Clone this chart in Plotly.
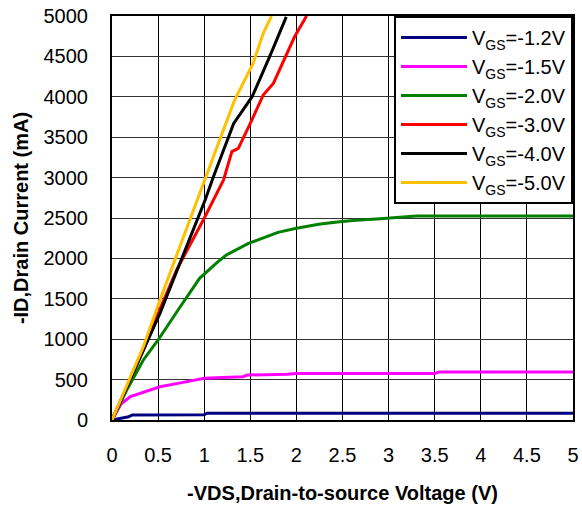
import plotly.graph_objects as go

# -VDS (V) and -ID (mA)
v_12 = [0, 0.1, 0.18, 0.22, 1.0, 1.03, 5.0]
i_12 = [0, 25, 40, 62, 65, 83, 85]

v_15 = [0, 0.05, 0.1, 0.2, 0.32, 0.52, 0.7, 0.92, 1.0, 1.42, 1.47, 1.9, 2.0, 3.5, 3.55, 5.0]
i_15 = [0, 110, 200, 290, 338, 412, 450, 495, 516, 536, 557, 565, 575, 575, 595, 595]

v_20 = [0, 0.16, 0.34, 0.5, 0.74, 0.95, 1.15, 1.24, 1.48, 1.8, 2.0, 2.26, 2.47, 2.61, 2.91, 3.3, 5.0]
i_20 = [0, 371, 743, 990, 1402, 1753, 1960, 2042, 2186, 2322, 2372, 2426, 2454, 2470, 2490, 2525, 2525]

v_30 = [0, 0.34, 0.485, 0.7, 0.99, 1.1, 1.21, 1.3, 1.37, 1.5, 1.64, 1.75, 1.86, 1.98, 2.11]
i_30 = [0, 866, 1279, 1856, 2475, 2723, 2970, 3321, 3362, 3671, 4022, 4166, 4434, 4743, 5000]

v_40 = [0, 0.39, 0.52, 1.01, 1.1, 1.32, 1.52, 1.71, 1.89]
i_40 = [0, 990, 1320, 2723, 3011, 3671, 4001, 4496, 4990]

v_50 = [0, 0.34, 0.52, 0.92, 1.14, 1.33, 1.53, 1.64, 1.73]
i_50 = [0, 907, 1485, 2723, 3382, 3960, 4414, 4785, 5000]

labels = ["V<sub>GS</sub>=-1.2V", "V<sub>GS</sub>=-1.5V", "V<sub>GS</sub>=-2.0V",
          "V<sub>GS</sub>=-3.0V", "V<sub>GS</sub>=-4.0V", "V<sub>GS</sub>=-5.0V"]
colors = ["#000080", "#FF00FF", "#008000", "#FF0000", "#000000", "#FFC000"]
xs = [v_12, v_15, v_20, v_30, v_40, v_50]
ys = [i_12, i_15, i_20, i_30, i_40, i_50]

x_ticks = [0, 0.5, 1, 1.5, 2, 2.5, 3, 3.5, 4, 4.5, 5]
y_ticks = list(range(0, 5001, 500))

FONT = "Liberation Sans, Arial, sans-serif"

fig = go.Figure()
for k in range(6):
    fig.add_trace(go.Scatter(x=xs[k], y=ys[k], mode="lines", name=labels[k],
                             line=dict(color=colors[k], width=3)))

fig.update_layout(
    width=582, height=513,
    margin=dict(l=112, r=9, t=16, b=93, autoexpand=False),
    paper_bgcolor="white", plot_bgcolor="white",
    font=dict(family=FONT, size=20, color="black"),
    showlegend=True,
    legend=dict(x=1.0, y=1.0, xanchor="right", yanchor="top",
                bgcolor="white", bordercolor="black", borderwidth=2,
                font=dict(size=20), itemwidth=66),
)
fig.update_xaxes(range=[0, 5], tickvals=x_ticks, ticktext=[str(t) for t in x_ticks],
                 showgrid=True, gridcolor="black", gridwidth=1,
                 showline=True, linecolor="black", linewidth=2, mirror=True,
                 zeroline=False, ticks="", ticklabelstandoff=16, automargin=False,
                 tickfont=dict(size=20),
                 title=dict(text="<b>-VDS,Drain-to-source Voltage (V)</b>",
                            font=dict(size=20), standoff=21))
fig.update_yaxes(range=[0, 5000], tickvals=y_ticks,
                 showgrid=True, gridcolor="#333333", gridwidth=1,
                 showline=True, linecolor="black", linewidth=2, mirror=True,
                 zeroline=False, ticks="", ticklabelstandoff=18, automargin=False,
                 tickfont=dict(size=20),
                 title=dict(text="<b>-ID,Drain Current (mA)</b>",
                            font=dict(size=20), standoff=10))

fig.write_html("out.html")
